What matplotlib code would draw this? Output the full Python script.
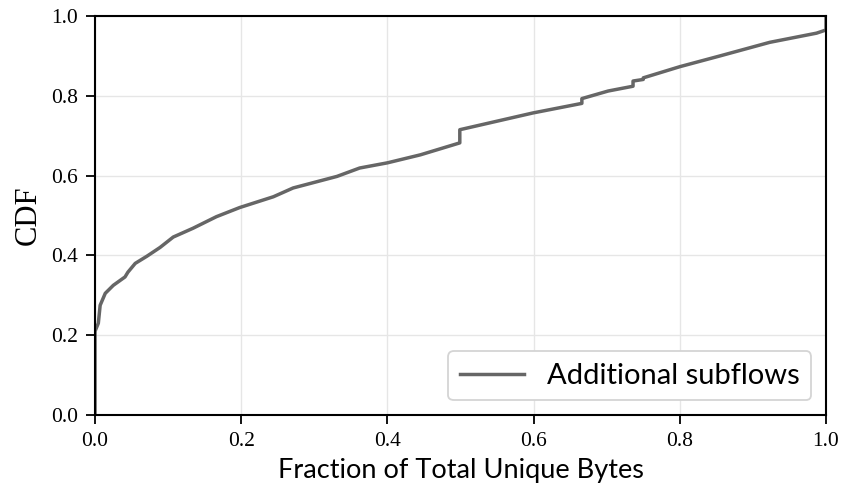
import numpy as np
import matplotlib

matplotlib.use("Agg")
import matplotlib.pyplot as plt

# CDF of fraction of total unique bytes carried by additional subflows
frac_bytes = [
    0.0, 0.0, 0.0045, 0.007, 0.014, 0.025, 0.041, 0.045, 0.055, 0.071,
    0.089, 0.107, 0.134, 0.166, 0.198, 0.244, 0.271, 0.331, 0.362, 0.40,
    0.445, 0.499, 0.499, 0.599, 0.666, 0.666, 0.702, 0.736, 0.736, 0.75,
    0.75, 0.80, 0.855, 0.923, 0.987, 1.0, 1.0,
]
cdf = [
    0.0, 0.21, 0.23, 0.275, 0.305, 0.325, 0.346, 0.358, 0.38, 0.398,
    0.42, 0.446, 0.468, 0.497, 0.52, 0.547, 0.569, 0.598, 0.619, 0.632,
    0.652, 0.682, 0.715, 0.757, 0.781, 0.793, 0.812, 0.824, 0.837, 0.841,
    0.845, 0.873, 0.90, 0.934, 0.957, 0.965, 1.0,
]
series_label = "Additional subflows"

serif = "Liberation Serif"
sans = "Lato"

fig = plt.figure(figsize=(8.44, 4.97), dpi=100)
ax = fig.add_axes([0.1126, 0.165, 0.8661, 0.8028])

ax.plot(frac_bytes, cdf, color="#666666", lw=2.5, label=series_label)

ax.set_xlim(0, 1)
ax.set_ylim(0, 1)
ax.set_xticks(np.arange(0, 1.01, 0.2))
ax.set_yticks(np.arange(0, 1.01, 0.2))
ax.grid(True, color="#e6e6e6", lw=1)
ax.set_axisbelow(True)

for lab in ax.get_xticklabels() + ax.get_yticklabels():
    lab.set_fontfamily(serif)
    lab.set_fontsize(15.5)
ax.tick_params(direction="out", length=6.5, width=1.3, pad=6, colors="black")

for sp in ax.spines.values():
    sp.set_linewidth(1.5)
    sp.set_color("black")

ax.set_xlabel("Fraction of Total Unique Bytes", fontfamily=sans,
              fontsize=19.5, labelpad=5)
ax.set_ylabel("CDF", fontfamily=serif, fontsize=22, labelpad=6)

leg = ax.legend(loc="lower right", prop={"family": sans, "size": 21},
                frameon=True, fancybox=True, edgecolor="#d4d4d4",
                framealpha=1, handlelength=2.2, handletextpad=0.8,
                borderpad=0.4, borderaxespad=0.5)
leg.get_frame().set_linewidth(1.3)

fig.savefig("out.png", dpi=100)
